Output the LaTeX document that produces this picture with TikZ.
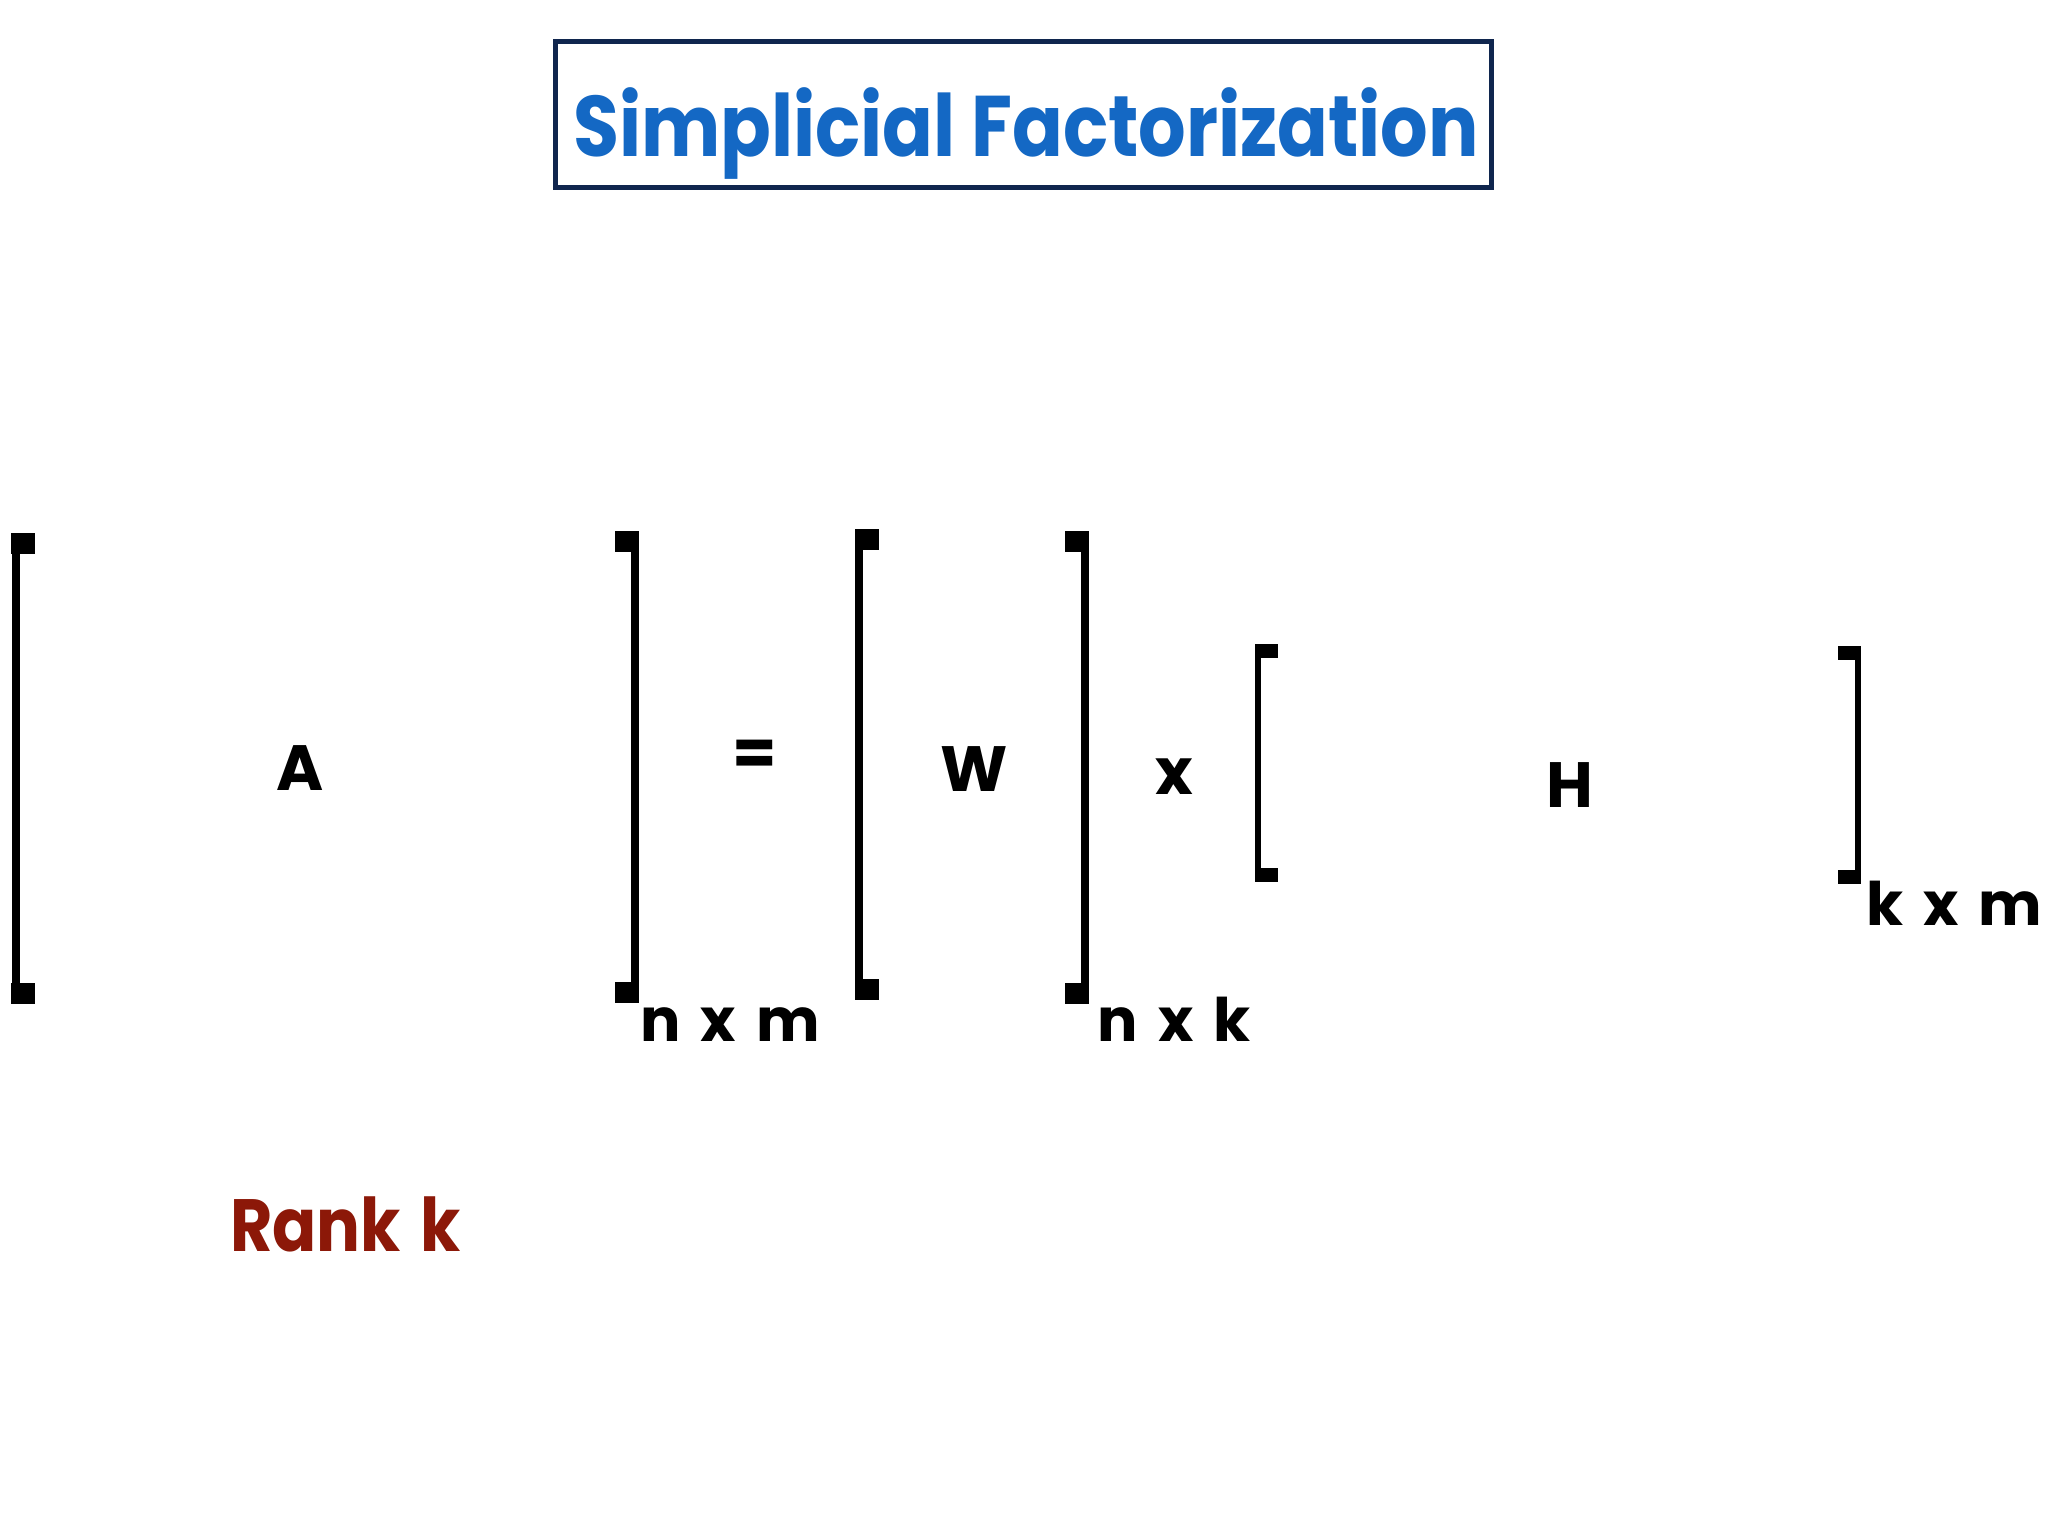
\documentclass[tikz,border=0pt]{standalone}
\usepackage{fontspec}
\setmainfont{Poppins}
\definecolor{titleblue}{RGB}{20,104,196}
\definecolor{navy}{RGB}{16,38,78}
\definecolor{rankred}{RGB}{140,24,8}
\newcommand{\dimgap}{\hspace{20pt}}
\begin{document}
\begin{tikzpicture}[x=1pt,y=-1pt,
  brk/.style={line width=8pt},
  brkthin/.style={line width=6pt},
  sym/.style={font=\fontsize{64}{70}\selectfont\bfseries, inner sep=0, anchor=base},
  dimlabel/.style={font=\fontsize{60}{66}\selectfont\bfseries, inner sep=0, anchor=base}]
\useasboundingbox (0,0) rectangle (2048,1536);
\fill[white] (0,0) rectangle (2048,1536);
% title
\node[draw=navy, line width=5pt, minimum width=936pt, minimum height=145pt, inner sep=0] (titlebox) at (1023,114.5) {};
\node[font=\fontsize{86}{90}\selectfont\bfseries, text=titleblue, inner sep=0, anchor=base] (title) at (1026,157) {\scalebox{0.87}[1]{Simplicial Factorization}};
% bracket A left
\draw[brk] (15.5,533) -- (15.5,1004);
\fill (11,533) rectangle (35,554);
\fill (11,983) rectangle (35,1004);
% bracket A right
\draw[brk] (635,531) -- (635,1003);
\fill (615,531) rectangle (639,552);
\fill (615,982) rectangle (639,1003);
% bracket W left
\draw[brk] (859,529) -- (859,1000);
\fill (855,529) rectangle (879,550);
\fill (855,979) rectangle (879,1000);
% bracket W right
\draw[brk] (1085,531) -- (1085,1004);
\fill (1065,531) rectangle (1089,552);
\fill (1065,983) rectangle (1089,1004);
% bracket H left
\draw[brkthin] (1258,644) -- (1258,882);
\fill (1255,644) rectangle (1278,658);
\fill (1255,868) rectangle (1278,882);
% bracket H right
\draw[brkthin] (1858,646) -- (1858,884);
\fill (1838,646) rectangle (1861,660);
\fill (1838,870) rectangle (1861,884);
% letters
\node[sym] (A) at (300,790) {A};
\node[sym] (eq) at (755,775) {=};
\node[sym] (W) at (974,791) {W};
\node[sym] (times) at (1174,794) {x};
\node[sym] (H) at (1570,807) {H};
% dimensions
\node[dimlabel] (dimA) at (730,1041) {n\dimgap x\dimgap m};
\node[dimlabel] (dimW) at (1174,1041) {n\dimgap x\dimgap k};
\node[dimlabel] (dimH) at (1954,925) {k\dimgap x\dimgap m};
% rank
\node[font=\fontsize{74}{80}\selectfont\bfseries, text=rankred, inner sep=0, anchor=base west] (rank) at (230,1251) {\scalebox{0.88}[1]{Rank\hspace{6pt} k}};
\end{tikzpicture}
\end{document}
